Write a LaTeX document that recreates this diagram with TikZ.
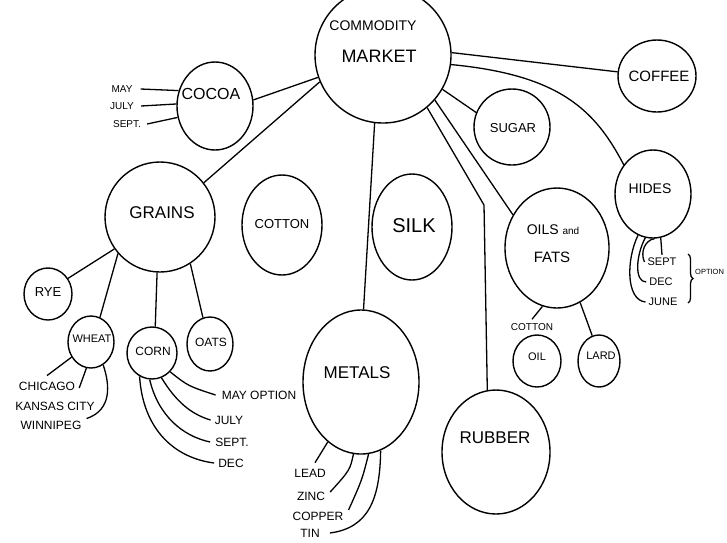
\documentclass[tikz,border=0pt]{standalone}
\usepackage{fontspec}
\setmainfont{Liberation Sans}
\usetikzlibrary{shapes.geometric,decorations.pathreplacing,calc}
\tikzset{
  bub/.style args={#1/#2}{draw, ellipse, line width=1.4pt, inner sep=0pt, minimum width=#1pt, minimum height=#2pt},
  txt/.style={inner sep=0pt, font=\fontsize{#1}{#1}\selectfont},
  con/.style={line width=1.3pt},
}
\begin{document}
\begin{tikzpicture}[x=1pt,y=-1pt]
\clip (0,0) rectangle (727,542);
\fill[white] (0,0) rectangle (727,542);
% bubbles
\node[bub=136/136] (market) at (383,55) {};
\node[bub=76/88] (cocoa) at (215,106) {};
\node[bub=78/72] (coffee) at (657,76) {};
\node[bub=76/76] (sugar) at (512,127) {};
\node[bub=76/88] (hides) at (653,194) {};
\node[bub=110/110] (grains) at (160,217) {};
\node[bub=80/100] (cotton) at (282,225) {};
\node[bub=80/106] (silk) at (412,227) {};
\node[bub=104/120] (oils) at (557,248) {};
\node[bub=48/52] (rye) at (48,294) {};
\node[bub=46/52] (wheat) at (91,342) {};
\node[bub=50/52] (corn) at (152,353) {};
\node[bub=46/54] (oats) at (210,344) {};
\node[bub=116/144] (metals) at (361,382) {};
\node[bub=108/124] (rubber) at (496,452) {};
\node[bub=48/52] (oil) at (537,361) {};
\node[bub=42/52] (lard) at (599,361) {};
% texts in bubbles
\node[txt=14] (t1) at (373,26) {COMMODITY};
\node[txt=18] (t2) at (379,56) {MARKET};
\node[txt=16] (t3) at (211,94) {COCOA};
\node[txt=15] (t4) at (659,76) {COFFEE};
\node[txt=13] (t5) at (513,128) {SUGAR};
\node[txt=14] (t6) at (650,189) {HIDES};
\node[txt=17] (t7) at (162,213) {GRAINS};
\node[txt=13] (t8) at (282,224) {COTTON};
\node[txt=20] (t9) at (414,226) {SILK};
\node[txt=14] (t10) at (553,230) {OILS {\fontsize{10}{10}\selectfont and}};
\node[txt=15] (t11) at (552,257) {FATS};
\node[txt=13] (t12) at (48,292) {RYE};
\node[txt=11] (t13) at (92,339) {WHEAT};
\node[txt=12] (t14) at (153,351) {CORN};
\node[txt=12] (t15) at (211,342) {OATS};
\node[txt=17] (t16) at (357,373) {METALS};
\node[txt=17] (t17) at (495,438) {RUBBER};
\node[txt=11] (t18) at (537,357) {OIL};
\node[txt=11] (t19) at (601,356) {LARD};
% outside labels
\node[txt=10] (cotlbl) at (532,327) {COTTON};
\node[txt=10] (cmay) at (122,89) {MAY};
\node[txt=10] (cjuly) at (122,106) {JULY};
\node[txt=10] (csept) at (127,124) {SEPT.};
\node[txt=12] (chicago) at (47,386) {CHICAGO};
\node[txt=12] (kansas) at (55,406) {KANSAS CITY};
\node[txt=12] (winnipeg) at (51,425) {WINNIPEG};
\node[txt=12] (mayopt) at (259,395) {MAY OPTION};
\node[txt=12] (july) at (229,420) {JULY};
\node[txt=12] (sept) at (232,442) {SEPT.};
\node[txt=12] (dec) at (231,463) {DEC};
\node[txt=12] (lead) at (310,473) {LEAD};
\node[txt=12] (zinc) at (311,496) {ZINC};
\node[txt=12] (copper) at (318,516) {COPPER};
\node[txt=12] (tin) at (310,533) {TIN};
\node[txt=11] (hsept) at (662,262) {SEPT};
\node[txt=11] (hdec) at (661,282) {DEC};
\node[txt=11] (hjune) at (663,302) {JUNE};
\node[txt=7.5, anchor=west] (hopt) at (695,272) {OPTION};
% market connectors
\draw[con] (market.199) -- (cocoa.9);
\draw[con] (market.2) -- (coffee.174);
\draw[con] (market.-8) .. controls (560,75) and (595,110) .. (hides.135);
\draw[con] (market.-30) -- (sugar.158);
\draw[con] (market.203) -- (grains.38);
\draw[con] (market.-97) -- (metals.88);
\draw[con] (market.-41) -- (oils.143);
\coordinate (rbend) at (484,205);
\draw[con] (market.-50) -- (rbend) -- (rubber.98);
% cocoa
\draw[con] ([xshift=8pt]cmay.east) -- (cocoa.157);
\draw[con] ([xshift=7pt]cjuly.east) -- (cocoa.177);
\draw[con] ([xshift=6pt]csept.east) -- (cocoa.197);
% grains
\draw[con] (grains.215) -- (rye.38);
\draw[con] (grains.221) -- (wheat.70);
\draw[con] (grains.-93) -- (corn.83);
\draw[con] (grains.-57) -- (oats.105);
% wheat
\draw[con] (wheat.218) -- ([yshift=6pt]chicago.north);
\draw[con] (wheat.-100) -- ([xshift=4pt,yshift=-2pt]chicago.east);
\draw[con] (wheat.-62) .. controls (110,385) and (112,410) .. ([xshift=5pt,yshift=2pt]winnipeg.north east);
% corn
\draw[con] (corn.-46) .. controls (188,386) .. ([xshift=-6pt]mayopt.west);
\draw[con] (corn.-69) .. controls (175,400) and (190,414) .. ([xshift=-4pt]july.west);
\draw[con] (corn.-95) .. controls (158,415) and (182,436) .. ([xshift=-5pt]sept.west);
\draw[con] (corn.-118) .. controls (143,430) and (175,458) .. ([xshift=-4pt]dec.west);
% metals
\draw[con] (metals.241) -- ([xshift=5pt,yshift=6pt]lead.north);
\draw[con] (metals.264) .. controls (350,470) .. ([xshift=5pt,yshift=4pt]zinc.east);
\draw[con] (metals.276) .. controls (362,480) .. ([xshift=5pt,yshift=6pt]copper.east);
\draw[con] (metals.286) .. controls (380,500) and (368,528) .. ([xshift=10pt]tin.east);
% oils
\draw[con] (oils.256) -- ([yshift=4pt]cotlbl.north);
\draw[con] (oils.293) -- (lard.105);
% hides
\draw[con] (hides.250) .. controls (626,260) and (626,300) .. ([xshift=-3pt]hjune.west);
\draw[con] (hides.260) .. controls (636,255) and (634,282) .. ([xshift=-3pt]hdec.west);
\draw[con] (hides.272) .. controls (645,240) and (640,252) .. ([xshift=-3pt]hsept.west);
\draw[con] (hides.280) -- ([yshift=3pt]hsept.north);
\coordinate (bra) at (688,254);
\coordinate (brb) at (688,303);
\draw[con, decorate, decoration={brace, amplitude=5pt}] (bra) -- (brb);
\end{tikzpicture}
\end{document}
